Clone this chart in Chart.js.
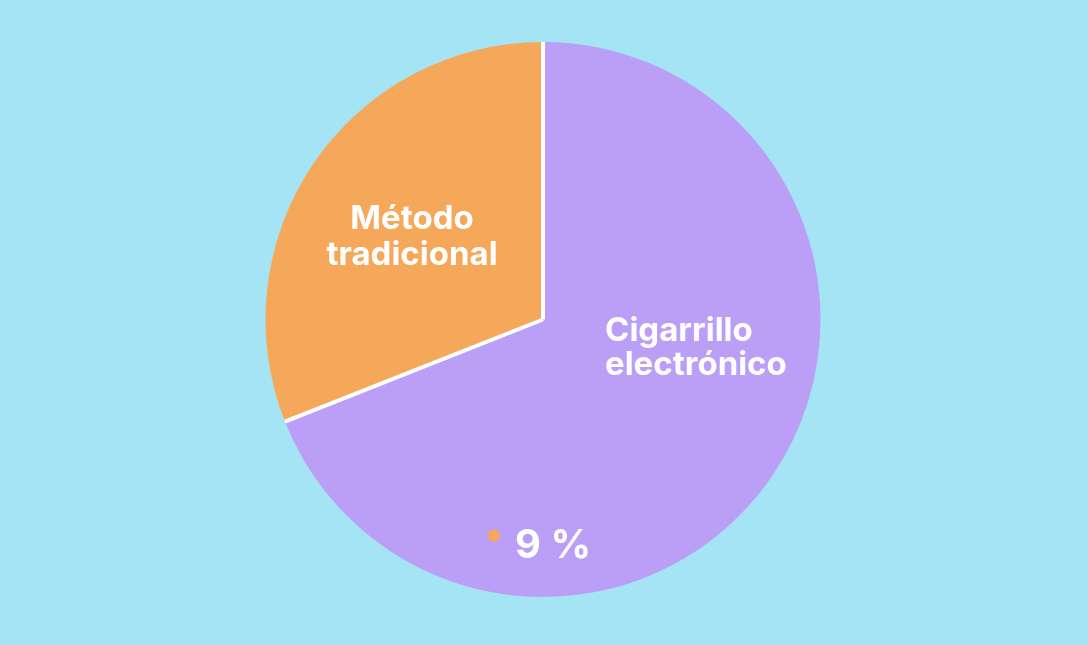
<!DOCTYPE html>
<html>
<head>
<meta charset="utf-8">
<script src="https://cdn.jsdelivr.net/npm/chart.js@4"></script>
<style>
  html, body { margin: 0; padding: 0; background: #a4e4f4; }
  #wrap { width: 1088px; height: 645px; }
</style>
</head>
<body>
<div id="wrap"><canvas id="myChart"></canvas></div>
<script>
  const labels = ['Cigarrillo electrónico', 'Método tradicional'];
  const labelLines = [['Cigarrillo', 'electrónico'], ['Método', 'tradicional']];
  const values = [69, 31];
  const colors = ['#bb9ff6', '#f6a85a'];
  const footNote = '9 %';

  // white separators + text drawn on top of the pie
  const overlay = {
    id: 'overlay',
    afterDatasetsDraw(chart) {
      const ctx = chart.ctx;
      const arcs = chart.getDatasetMeta(0).data;
      const cx = arcs[0].x, cy = arcs[0].y, r = arcs[0].outerRadius;

      ctx.save();
      ctx.strokeStyle = '#ffffff';
      ctx.lineWidth = 4;
      ctx.lineCap = 'butt';
      arcs.forEach(a => {
        ctx.beginPath();
        ctx.moveTo(cx, cy);
        ctx.lineTo(cx + Math.cos(a.startAngle) * r, cy + Math.sin(a.startAngle) * r);
        ctx.stroke();
      });

      ctx.fillStyle = '#ffffff';
      ctx.font = '700 33px Inter, "Noto Sans", sans-serif';
      ctx.textBaseline = 'middle';

      // orange slice label, centred
      ctx.textAlign = 'center';
      ctx.fillText(labelLines[1][0], cx - 131, cy - 100);
      ctx.fillText(labelLines[1][1], cx - 131, cy - 64);

      // purple slice label, left aligned
      ctx.textAlign = 'left';
      ctx.fillText(labelLines[0][0], cx + 62, cy + 12);
      ctx.fillText(labelLines[0][1], cx + 62, cy + 46);

      // small note with coloured dot
      ctx.font = '700 40px Inter, "Noto Sans", sans-serif';
      ctx.textAlign = 'left';
      ctx.fillText(footNote, cx - 28, cy + 226);
      ctx.fillStyle = colors[1];
      ctx.beginPath();
      ctx.arc(cx - 49, cy + 216, 6, 0, Math.PI * 2);
      ctx.fill();
      ctx.restore();
    }
  };

  const data = {
    labels: labels,
    datasets: [{
      data: values,
      backgroundColor: colors,
      borderWidth: 0
    }]
  };

  const config = {
    type: 'pie',
    data,
    options: {
      responsive: true,
      maintainAspectRatio: false,
      animation: false,
      layout: { padding: { top: 42, bottom: 48, left: 0, right: 2 } },
      plugins: {
        legend: { display: false },
        tooltip: { enabled: false }
      }
    },
    plugins: [overlay]
  };

  var myChart = new Chart(
    document.getElementById('myChart'),
    config
  );
</script>
</body>
</html>
